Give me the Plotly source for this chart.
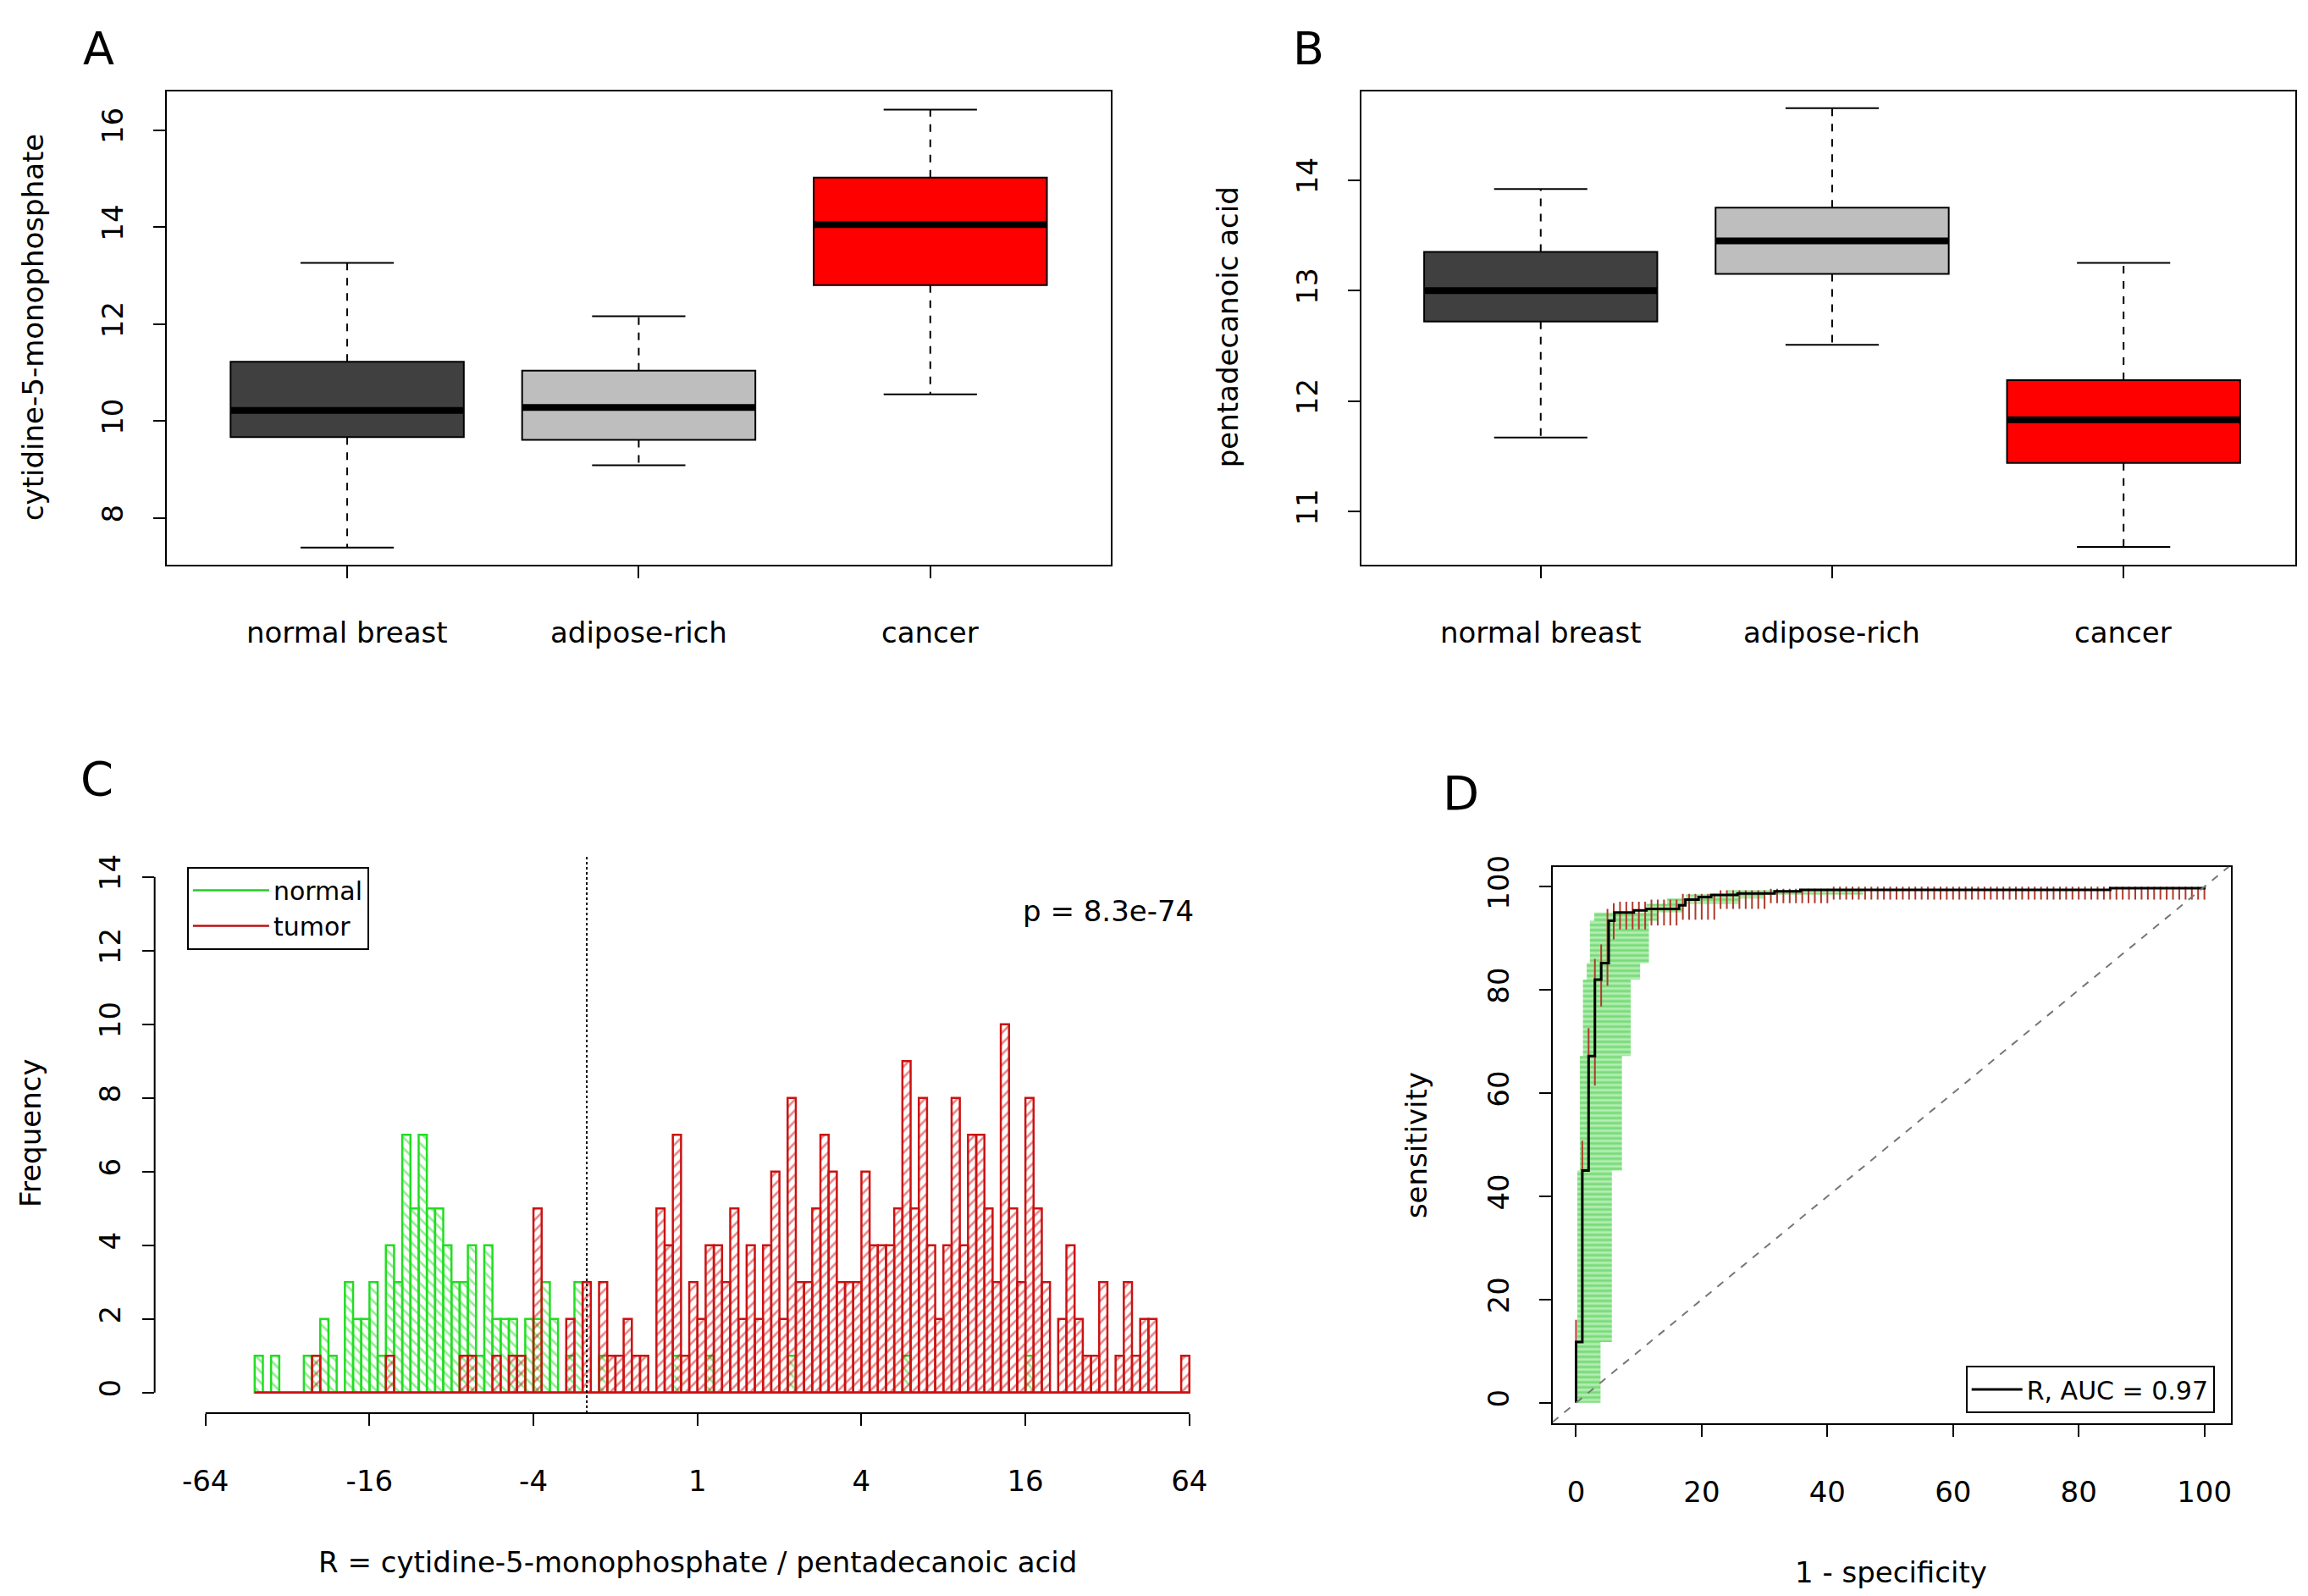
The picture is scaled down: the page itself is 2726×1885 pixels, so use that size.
import plotly.graph_objects as go

# ---------------- data ----------------
groups = ["normal breast", "adipose-rich", "cancer"]
box_colors = ["#404040", "#bebebe", "#ff0000"]
# panel A: cytidine-5-monophosphate
a_low = [7.39, 9.09, 10.55]
a_q1 = [9.67, 9.61, 12.80]
a_med = [10.22, 10.28, 14.05]
a_q3 = [11.22, 11.04, 15.02]
a_high = [13.26, 12.16, 16.42]
# panel B: pentadecanoic acid
b_low = [11.67, 12.51, 10.68]
b_q1 = [12.72, 13.15, 11.44]
b_med = [13.00, 13.45, 11.83]
b_q3 = [13.35, 13.75, 12.19]
b_high = [13.92, 14.65, 13.25]

# panel C: histogram of log2 ratio, bins of width 0.1 starting at -5.4
hist_start = -5.4
hist_width = 0.1
normal_counts = [1,0,1,0,0,0,1,1,2,1,0,3,2,2,3,1,4,3,7,5,7,5,5,4,3,3,4,1,4,2,
                 2,2,1,2,2,3,2,0,1,3,0,0,1,0,0,0,0,0,0,0,0,1,0,0,0,1,0,0,0,0,
                 0,0,0,0,0,1,0,0,0,0,0,0,0,0,0,0,0,0,0,1,0,0,0,0,0,0,0,0,0,0,
                 0,0,0,0,1,0,0,0,0,0,0,0,0,0,0,0,0,0,0,0,0,0,0,0]
tumor_counts = [0,0,0,0,0,0,0,1,0,0,0,0,0,0,0,0,1,0,0,0,0,0,0,0,0,1,1,0,0,1,
                0,1,1,0,5,0,0,0,2,0,3,0,3,1,1,2,1,1,0,5,4,7,1,3,2,4,4,3,
                5,2,4,2,4,6,2,8,3,3,5,7,6,3,3,3,6,4,4,4,5,9,5,8,4,2,4,8,4,7,
                7,5,3,10,5,3,8,5,3,0,2,4,2,1,1,3,0,1,3,1,2,2,0,0,0,1]
x_tickvals = [-6, -4, -2, 0, 2, 4, 6]
x_ticktext = ["-64", "-16", "-4", "1", "4", "16", "64"]
cutoff = -1.35

# panel D: ROC
roc_fpr = [0, 0, 1, 2, 3, 4, 5.2, 6.1, 9.2, 11.2, 16.4, 17.4, 19.5, 21.5, 25.7, 31.6, 35.7, 85, 100]
roc_sens = [0, 11.8, 45.0, 67.2, 82.0, 85.2, 93.4, 95.0, 95.4, 95.7, 96.4, 97.5, 98.0, 98.4, 98.7, 99.1, 99.4, 99.7, 100]
# specificity CI band (green): sensitivity levels and x extents
band_s_lo = [0, 11.8, 45.0, 67.2, 82.0, 85.2, 93.4, 95.0, 96.7, 97.7, 98.5]
band_s_hi = [11.8, 45.0, 67.2, 82.0, 85.2, 93.4, 95.0, 96.7, 97.7, 98.5, 99.3]
band_x_lo = [0.2, 0.2, 0.6, 1.1, 1.7, 2.2, 2.9, 11.2, 14.5, 17.5, 24.0]
band_x_hi = [3.9, 5.7, 7.3, 8.7, 10.2, 11.6, 12.9, 17.0, 26.0, 30.0, 45.7]
# sensitivity CI ticks (red): groups of x positions
ci_x_from = [0, 1, 2, 3, 4, 5, 6, 7, 12, 17, 23, 31, 41]
ci_x_to = [0, 1, 2, 3, 4, 5, 6, 11, 16, 22, 30, 40, 100]
ci_lo = [8.4, 39.0, 60.0, 61.5, 76.8, 80.8, 89.8, 91.7, 92.5, 93.6, 95.7, 96.8, 97.5]
ci_hi = [16.1, 50.8, 72.6, 86.0, 88.8, 95.7, 96.8, 97.1, 97.5, 98.6, 99.3, 99.6, 100.0]

# ---------------- figure ----------------
W, H = 2726, 1885
FONT = "DejaVu Sans"
FS = 34
fig = go.Figure()

def fx(d):
    return (d - 4.5) / 1568.0

def fy(d):
    d2 = 61 + (d - 61) / 0.992
    return 1 - (d2 - 11.0) / 1084.0

def boxes(xa, ya, low, q1, med, q3, high):
    xs = list(range(len(groups)))
    fig.add_trace(go.Bar(x=xs, y=[b - a for a, b in zip(q1, q3)], base=q1, width=0.8,
                         marker=dict(color=box_colors, line=dict(color="black", width=2)),
                         xaxis=xa, yaxis=ya, showlegend=False))
    for i in xs:
        fig.add_trace(go.Scatter(x=[i - 0.4, i + 0.4], y=[med[i], med[i]], mode="lines",
                                 line=dict(color="black", width=8), xaxis=xa, yaxis=ya, showlegend=False))
        for a, b in ((q3[i], high[i]), (q1[i], low[i])):
            fig.add_trace(go.Scatter(x=[i, i], y=[a, b], mode="lines",
                                     line=dict(color="black", width=2, dash="dash"),
                                     xaxis=xa, yaxis=ya, showlegend=False))
            fig.add_trace(go.Scatter(x=[i - 0.16, i + 0.16], y=[b, b], mode="lines",
                                     line=dict(color="black", width=2),
                                     xaxis=xa, yaxis=ya, showlegend=False))

boxes("x", "y", a_low, a_q1, a_med, a_q3, a_high)
boxes("x2", "y2", b_low, b_q1, b_med, b_q3, b_high)

# histogram
centers = [hist_start + hist_width * (k + 0.5) for k in range(len(tumor_counts))]
fig.add_trace(go.Bar(x=centers, y=normal_counts, width=hist_width, xaxis="x3", yaxis="y3",
                     marker=dict(color="rgba(0,0,0,0)", line=dict(color="#22dd22", width=2.5),
                                 pattern=dict(shape="\\", fgcolor="#22dd22", bgcolor="rgba(0,0,0,0)",
                                              size=9, solidity=0.3)),
                     showlegend=False))
fig.add_trace(go.Bar(x=centers, y=tumor_counts, width=hist_width, xaxis="x3", yaxis="y3",
                     marker=dict(color="rgba(0,0,0,0)", line=dict(color="#cc1111", width=2.5),
                                 pattern=dict(shape="/", fgcolor="#cc1111", bgcolor="rgba(0,0,0,0)",
                                              size=9, solidity=0.3)),
                     showlegend=False))
edges = [hist_start, hist_start + hist_width * len(tumor_counts)]
fig.add_trace(go.Scatter(x=edges, y=[0, 0], mode="lines", line=dict(color="#cc1111", width=2.5),
                         xaxis="x3", yaxis="y3", showlegend=False))
fig.add_trace(go.Scatter(x=[None], y=[None], mode="lines", name="normal",
                         line=dict(color="#22cc22", width=2.5), xaxis="x3", yaxis="y3", legend="legend"))
fig.add_trace(go.Scatter(x=[None], y=[None], mode="lines", name="tumor",
                         line=dict(color="#bb1111", width=2.5), xaxis="x3", yaxis="y3", legend="legend"))

# ROC band
px, py = [], []
for i in range(len(band_s_lo)):
    px += [band_x_lo[i], band_x_hi[i], band_x_hi[i], band_x_lo[i], band_x_lo[i], None]
    py += [band_s_lo[i], band_s_lo[i], band_s_hi[i], band_s_hi[i], band_s_lo[i], None]
fig.add_trace(go.Scatter(x=px, y=py, mode="none", fill="toself", fillcolor="rgba(120,220,120,0.75)",
                         fillpattern=dict(shape="-", fgcolor="#3cc83c", bgcolor="#b4eeb4", size=6, solidity=0.5),
                         xaxis="x4", yaxis="y4", showlegend=False))
cx, cy = [], []
for i in range(len(ci_x_from)):
    for xv in range(ci_x_from[i], ci_x_to[i] + 1):
        cx += [xv, xv, None]
        cy += [ci_lo[i], ci_hi[i], None]
fig.add_trace(go.Scatter(x=cx, y=cy, mode="lines", line=dict(color="#b03a2a", width=2),
                         xaxis="x4", yaxis="y4", showlegend=False))
fig.add_trace(go.Scatter(x=roc_fpr, y=roc_sens, mode="lines", line=dict(color="black", width=3, shape="hv"),
                         xaxis="x4", yaxis="y4", name="R, AUC = 0.97", legend="legend2"))

tickfont = dict(family=FONT, size=FS, color="black")
ax_common = dict(showgrid=False, zeroline=False, ticks="outside", ticklen=14, tickwidth=2,
                 tickcolor="black", tickfont=tickfont, linecolor="black", linewidth=2)

fig.update_layout(
    width=W, height=H, paper_bgcolor="white", plot_bgcolor="white",
    margin=dict(l=0, r=0, t=0, b=0), barmode="overlay",
    font=dict(family=FONT, size=FS, color="black"),
    xaxis=dict(domain=[fx(113), fx(755)], range=[-0.62, 2.62], tickvals=[0, 1, 2], showticklabels=False,
               showline=True, mirror=True, anchor="y", **ax_common),
    yaxis=dict(domain=[fy(382), fy(61)], range=[7.04, 16.79], tickvals=[8, 10, 12, 14, 16], tickangle=-90,
               showline=True, mirror=True, anchor="x", ticklabelstandoff=22, **ax_common),
    xaxis2=dict(domain=[fx(925), fx(1560)], range=[-0.616, 2.59], tickvals=[0, 1, 2], showticklabels=False,
                showline=True, mirror=True, anchor="y2", **ax_common),
    yaxis2=dict(domain=[fy(382), fy(61)], range=[10.52, 14.8], tickvals=[11, 12, 13, 14], tickangle=-90,
                showline=True, mirror=True, anchor="x2", ticklabelstandoff=22, **ax_common),
    xaxis3=dict(domain=[fx(105), fx(840)], range=[-6.62, 6.57], tickvals=x_tickvals, ticktext=x_ticktext,
                showline=False, anchor="y3", ticklabelstandoff=36, **ax_common),
    yaxis3=dict(domain=[fy(958), fy(580)], range=[-0.56, 14.56], tickvals=list(range(0, 15, 2)), tickangle=-90,
                showline=False, anchor="x3", ticklabelstandoff=12, **ax_common),
    xaxis4=dict(domain=[fx(1055), fx(1516)], range=[-3.75, 104.2], tickvals=[0, 20, 40, 60, 80, 100],
                showline=True, mirror=True, anchor="y4", ticklabelstandoff=36, **ax_common),
    yaxis4=dict(domain=[fy(965), fy(587)], range=[-4, 103.9], tickvals=[0, 20, 40, 60, 80, 100], tickangle=-90,
                showline=True, mirror=True, anchor="x4", ticklabelstandoff=22, **ax_common),
    legend=dict(x=fx(127), y=fy(587), xanchor="left", yanchor="top", bordercolor="black", borderwidth=2,
                bgcolor="white", font=dict(family=FONT, size=30), tracegroupgap=0, itemwidth=90),
    legend2=dict(x=fx(1505), y=fy(958), xanchor="right", yanchor="bottom", bordercolor="black", borderwidth=2,
                 bgcolor="white", font=dict(family=FONT, size=30), itemwidth=60),
)

shapes = [
    dict(type="line", xref="x3 domain", yref="y3", x0=0, x1=0, y0=0, y1=14, line=dict(color="black", width=2)),
    dict(type="line", xref="x3", yref="y3 domain", x0=-6, x1=6, y0=0, y1=0, line=dict(color="black", width=2)),
    dict(type="line", xref="x3", yref="y3", x0=cutoff, x1=cutoff, y0=-0.56, y1=14.56,
         line=dict(color="black", width=2, dash="dot")),
    dict(type="line", xref="x4", yref="y4", x0=-3.75, y0=-3.75, x1=103.9, y1=103.9,
         line=dict(color="#777777", width=2, dash="dash")),
]
fig.update_layout(shapes=shapes)

ann = []
def text(x, y, s, size=FS, angle=0, yy=None, yanchor="middle"):
    ann.append(dict(x=fx(x), y=fy(y) if yy is None else yy, xref="paper", yref="paper", text=s, showarrow=False,
                    font=dict(family=FONT, size=size, color="black"), textangle=angle,
                    xanchor="center", yanchor=yanchor))

for lbl, x in zip(groups, [236, 434, 632]):
    text(x, 428, lbl)
for lbl, x in zip(groups, [1047, 1245, 1443]):
    text(x, 428, lbl)
text(67, 0, "A", 54, yy=0.999, yanchor="top")
text(889, 0, "B", 54, yy=0.999, yanchor="top")
text(66, 527, "C", 56)
text(993, 537, "D", 56)
text(22, 221, "cytidine-5-monophosphate", FS, -90)
text(834, 221, "pentadecanoic acid", FS, -90)
text(21, 768, "Frequency", FS, -90)
text(474, 1059, "R = cytidine-5-monophosphate / pentadecanoic acid", FS)
text(753, 617, "p = 8.3e-74", FS)
text(963, 776, "sensitivity", FS, -90)
text(1285, 1066, "1 - specificity", FS)
fig.update_layout(annotations=ann)

fig.write_html("out.html")
